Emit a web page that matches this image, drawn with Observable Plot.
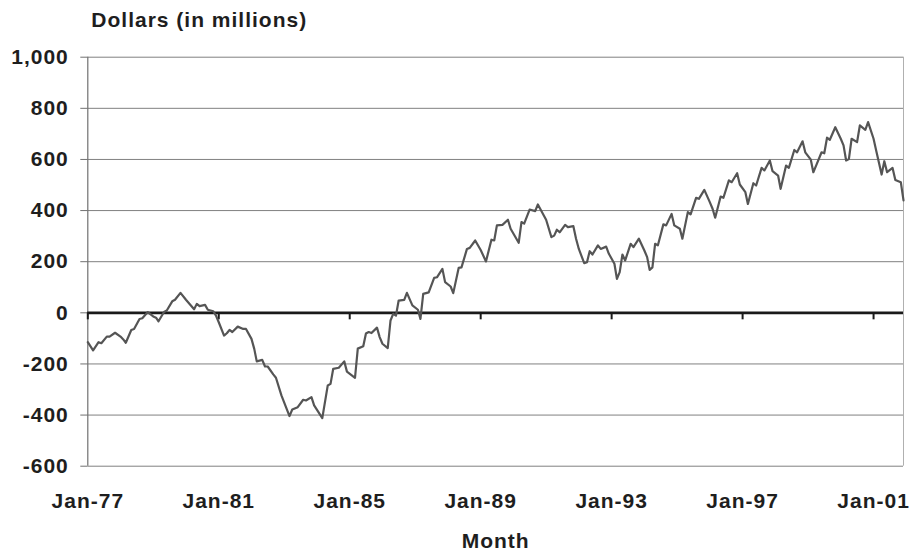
<!DOCTYPE html>
<html>
<head>
<meta charset="utf-8">
<script src="https://cdn.jsdelivr.net/npm/d3@7"></script>
<script src="https://cdn.jsdelivr.net/npm/@observablehq/plot@0.6"></script>
<style>
  html, body { margin: 0; padding: 0; background: #fff; }
  #chart svg text { letter-spacing: 1px; }
</style>
</head>
<body>
<div id="chart"></div>
<script>
const months = ["1977-01","1977-03","1977-05","1977-06","1977-08","1977-09","1977-11","1978-01","1978-02","1978-03","1978-05","1978-06","1978-08","1978-09","1978-11","1979-01","1979-02","1979-03","1979-05","1979-06","1979-08","1979-09","1979-11","1980-01","1980-04","1980-05","1980-06","1980-08","1980-09","1980-11","1980-12","1981-01","1981-03","1981-04","1981-05","1981-06","1981-08","1981-10","1981-11","1982-01","1982-02","1982-03","1982-05","1982-06","1982-07","1982-09","1982-10","1982-12","1983-03","1983-04","1983-06","1983-08","1983-09","1983-11","1983-12","1984-03","1984-05","1984-06","1984-07","1984-09","1984-11","1984-12","1985-03","1985-04","1985-06","1985-07","1985-08","1985-09","1985-11","1985-12","1986-01","1986-03","1986-04","1986-05","1986-06","1986-07","1986-09","1986-10","1986-12","1987-02","1987-03","1987-04","1987-06","1987-08","1987-09","1987-11","1987-12","1988-02","1988-03","1988-05","1988-06","1988-08","1988-09","1988-11","1989-01","1989-03","1989-05","1989-06","1989-07","1989-09","1989-11","1989-12","1990-03","1990-04","1990-05","1990-07","1990-09","1990-10","1991-01","1991-03","1991-04","1991-05","1991-06","1991-08","1991-09","1991-11","1991-12","1992-01","1992-03","1992-04","1992-05","1992-06","1992-08","1992-09","1992-11","1992-12","1993-02","1993-03","1993-04","1993-05","1993-06","1993-08","1993-09","1993-11","1994-01","1994-02","1994-03","1994-04","1994-05","1994-06","1994-08","1994-09","1994-11","1994-12","1995-02","1995-03","1995-05","1995-06","1995-08","1995-09","1995-11","1996-01","1996-02","1996-03","1996-05","1996-06","1996-08","1996-09","1996-11","1996-12","1997-02","1997-03","1997-05","1997-06","1997-08","1997-09","1997-11","1997-12","1998-02","1998-03","1998-05","1998-06","1998-08","1998-09","1998-11","1998-12","1999-02","1999-03","1999-04","1999-06","1999-07","1999-08","1999-09","1999-11","2000-01","2000-02","2000-03","2000-04","2000-05","2000-07","2000-08","2000-10","2000-11","2001-01","2001-02","2001-04","2001-05","2001-06","2001-08","2001-09","2001-11","2001-12"];

const dollars = [-115,-147,-115,-119,-93,-93,-78,-93,-104,-117,-67,-63,-24,-21,3,-14,-19,-33,3,9,45,51,78,51,14,35,26,31,12,6,-11,
-37,-89,-80,-67,-75,-54,-63,-63,-102,-141,-190,-184,-210,-210,-241,-254,-323,-404,-378,-369,-340,-343,-330,-362,-412,-284,-278,-219,-215,-190,-230,-254,
-140,-131,-81,-75,-79,-58,-95,-121,-138,-30,-4,-11,48,51,78,29,12,-24,74,80,137,139,172,120,103,77,176,178,250,254,283,246,201,
286,283,342,344,364,329,274,355,349,404,398,424,364,296,302,325,315,344,335,339,290,250,194,198,241,228,264,250,259,231,192,133,
159,228,205,270,257,290,244,218,168,178,270,264,346,342,387,342,329,290,394,385,450,446,481,433,407,372,455,450,518,511,546,502,472,426,507,498,567,557,596,554,537,485,576,567,637,628,671,628,599,550,576,628,624,685,677,726,681,655,596,602,681,668,733,716,746,681,632,541,593,550,567,520,511,440];

const xTickMonths = ["1977-01","1981-01","1985-01","1989-01","1993-01","1997-01","2001-01"];
const yTicks = [-600,-400,-200,0,200,400,600,800,1000];
const yLabel = "Dollars (in millions)";
const xLabel = "Month";

const parse = d3.utcParse("%Y-%m");
const data = months.map((m, i) => ({date: parse(m), value: dollars[i]}));
const xTicks = xTickMonths.map(parse);
const first = data[0].date, last = data[data.length - 1].date;
const fmtY = d => (d < 0 ? "-" : "") + d3.format(",")(Math.abs(d));
const fmtX = d3.utcFormat("%b-%y");

const chart = Plot.plot({
  width: 914,
  height: 552,
  marginLeft: 87.3,
  marginRight: 11,
  marginTop: 56.7,
  marginBottom: 86.3,
  style: {fontFamily: "'Liberation Sans', Arial, sans-serif", fontSize: "21px", fontWeight: "bold", color: "#1e1e1e", background: "#fff"},
  x: {type: "utc", domain: [first, last]},
  y: {domain: [-600, 1000]},
  marks: [
    Plot.ruleY(yTicks, {stroke: "#808080", strokeWidth: 1}),
    Plot.ruleX([last], {stroke: "#b0b0b0", strokeWidth: 1}),
    Plot.ruleX([first], {stroke: "#707070", strokeWidth: 1.2}),
    Plot.axisY({ticks: yTicks, tickFormat: fmtY, tickSize: 7, tickPadding: 12, stroke: "#707070", label: null, fill: "#1e1e1e"}),
    Plot.axisX({ticks: xTicks, tickFormat: fmtX, tickSize: 0, tickPadding: 27.3, label: null, fill: "#1e1e1e"}),
    Plot.ruleY([0], {stroke: "#1a1a1a", strokeWidth: 2.6}),
    Plot.ruleX(xTicks, {x: d => d, y1: 0, y2: 0, insetBottom: -7, stroke: "#1a1a1a", strokeWidth: 2}),
    Plot.line(data, {x: "date", y: "value", stroke: "#555555", strokeWidth: 2.2, strokeLinejoin: "round"}),
    Plot.text([yLabel], {text: d => d, frameAnchor: "top-left", textAnchor: "start", lineAnchor: "middle", dx: 3.5, dy: -37, fill: "#1e1e1e"}),
    Plot.text([xLabel], {text: d => d, frameAnchor: "bottom", textAnchor: "middle", lineAnchor: "middle", dy: 75, fill: "#1e1e1e"})
  ]
});
document.getElementById("chart").appendChild(chart);
</script>
</body>
</html>
